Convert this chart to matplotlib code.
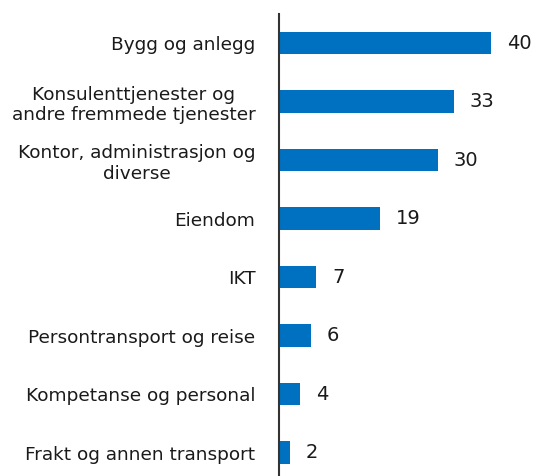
import matplotlib
matplotlib.use("Agg")
import matplotlib.pyplot as plt

categories = ["Bygg og anlegg",
              "Konsulenttjenester og\nandre fremmede tjenester",
              "Kontor, administrasjon og\ndiverse",
              "Eiendom",
              "IKT",
              "Persontransport og reise",
              "Kompetanse og personal",
              "Frakt og annen transport"]
values = [40, 33, 30, 19, 7, 6, 4, 2]

plt.rcParams['font.family'] = ['DejaVu Sans']

fig = plt.figure(figsize=(5.36, 4.76), dpi=100)
ax = fig.add_axes([279/536, 0.0, 1 - 279/536, 1 - 13.75/476])

y = list(range(len(categories)))
ax.barh(y, values, height=0.38, color="#0070C0")
ax.set_ylim(7.40, -0.5)
ax.set_xlim(0, 48.5)

for yi, v in zip(y, values):
    ax.text(v + 3.0, yi, str(v), va="center", ha="left", fontsize=14, color="#1a1a1a")

ax.set_yticks(y)
ax.set_yticklabels(categories, fontsize=13.3, color="#1a1a1a", linespacing=1.2,
                   multialignment="center")
ax.tick_params(axis="y", length=0, pad=17)
ax.set_xticks([])
for s in ["top", "right", "bottom"]:
    ax.spines[s].set_visible(False)
ax.spines["left"].set_color("#333333")
ax.spines["left"].set_linewidth(1.5)

fig.savefig("out.png", dpi=100)
